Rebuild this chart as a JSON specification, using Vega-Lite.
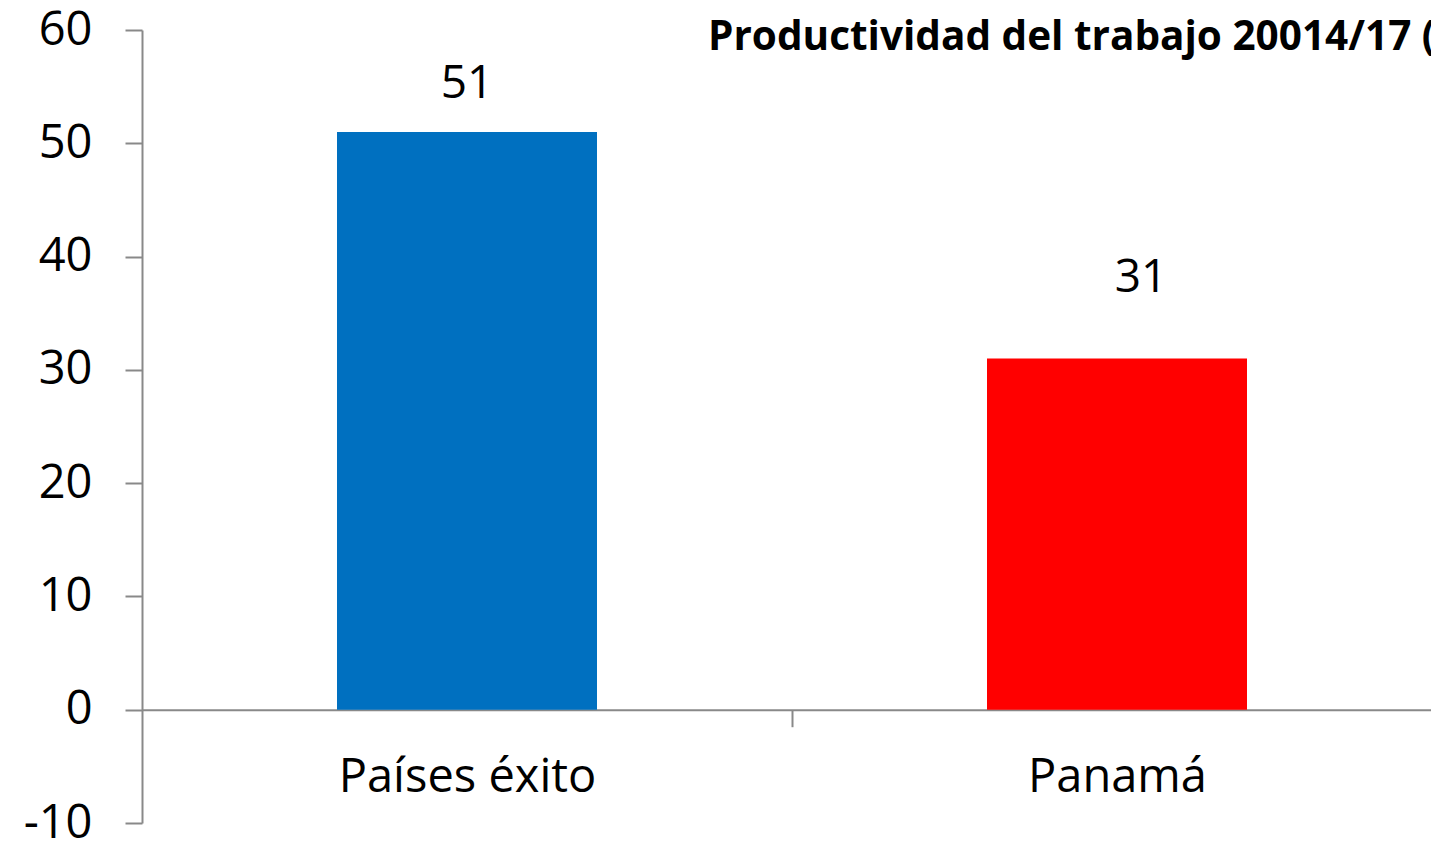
{
  "$schema": "https://vega.github.io/schema/vega-lite/v6.json",
  "width": 1289,
  "height": 793,
  "autosize": {"type": "none"},
  "padding": {"left": 142, "top": 30, "right": 0, "bottom": 22},
  "background": "white",
  "config": {"view": {"stroke": null}, "font": "Open Sans"},
  "title": {
    "text": "Productividad del trabajo 20014/17 (",
    "anchor": "start",
    "frame": "group",
    "dx": 566,
    "dy": 84,
    "offset": 0,
    "baseline": "alphabetic",
    "fontSize": 40.5,
    "fontWeight": "bold",
    "font": "Open Sans",
    "color": "black",
    "limit": 0
  },
  "data": {
    "values": [
      {"categoria": "Países éxito", "valor": 51},
      {"categoria": "Panamá", "valor": 31}
    ]
  },
  "encoding": {
    "x": {
      "field": "categoria",
      "type": "nominal",
      "sort": null,
      "scale": {"range": [0, 1300], "paddingInner": 0.6, "paddingOuter": 0.3},
      "axis": {
        "orient": "bottom",
        "offset": -113.29,
        "title": null,
        "domainColor": "#898989",
        "domainWidth": 2,
        "tickOffset": 325,
        "labelOffset": -325,
        "tickColor": "#898989",
        "tickWidth": 2,
        "tickSize": 17,
        "labelFontSize": 47,
        "labelFont": "Open Sans",
        "labelColor": "black",
        "labelBaseline": "alphabetic",
        "labelPadding": 65,
        "labelAngle": 0,
        "labelLimit": 0
      }
    }
  },
  "layer": [
    {
      "mark": {"type": "bar"},
      "encoding": {
        "y": {
          "field": "valor",
          "type": "quantitative",
          "scale": {"domain": [-10, 60], "nice": false},
          "axis": {
            "title": null,
            "values": [-10, 0, 10, 20, 30, 40, 50, 60],
            "labelExpr": "'' + datum.value",
            "grid": false,
            "domainColor": "#898989",
            "domainWidth": 2,
            "tickColor": "#898989",
            "tickWidth": 2,
            "tickSize": 17,
            "labelFontSize": 47,
            "labelFont": "Open Sans",
            "labelColor": "black",
            "labelPadding": 33
          }
        },
        "y2": {"datum": 0},
        "color": {
          "field": "categoria",
          "type": "nominal",
          "scale": {"domain": ["Países éxito", "Panamá"], "range": ["#0070C0", "#FF0000"]},
          "legend": null
        }
      }
    },
    {
      "transform": [{"filter": "datum.categoria === 'Países éxito'"}],
      "mark": {"type": "text", "dy": -34, "baseline": "alphabetic", "fontSize": 46, "font": "Open Sans", "color": "black"},
      "encoding": {
        "y": {"field": "valor", "type": "quantitative"},
        "text": {"field": "valor", "type": "quantitative"}
      }
    },
    {
      "transform": [{"filter": "datum.categoria === 'Panamá'"}],
      "mark": {"type": "text", "dy": -67, "dx": 24, "baseline": "alphabetic", "fontSize": 46, "font": "Open Sans", "color": "black"},
      "encoding": {
        "y": {"field": "valor", "type": "quantitative"},
        "text": {"field": "valor", "type": "quantitative"}
      }
    }
  ]
}
